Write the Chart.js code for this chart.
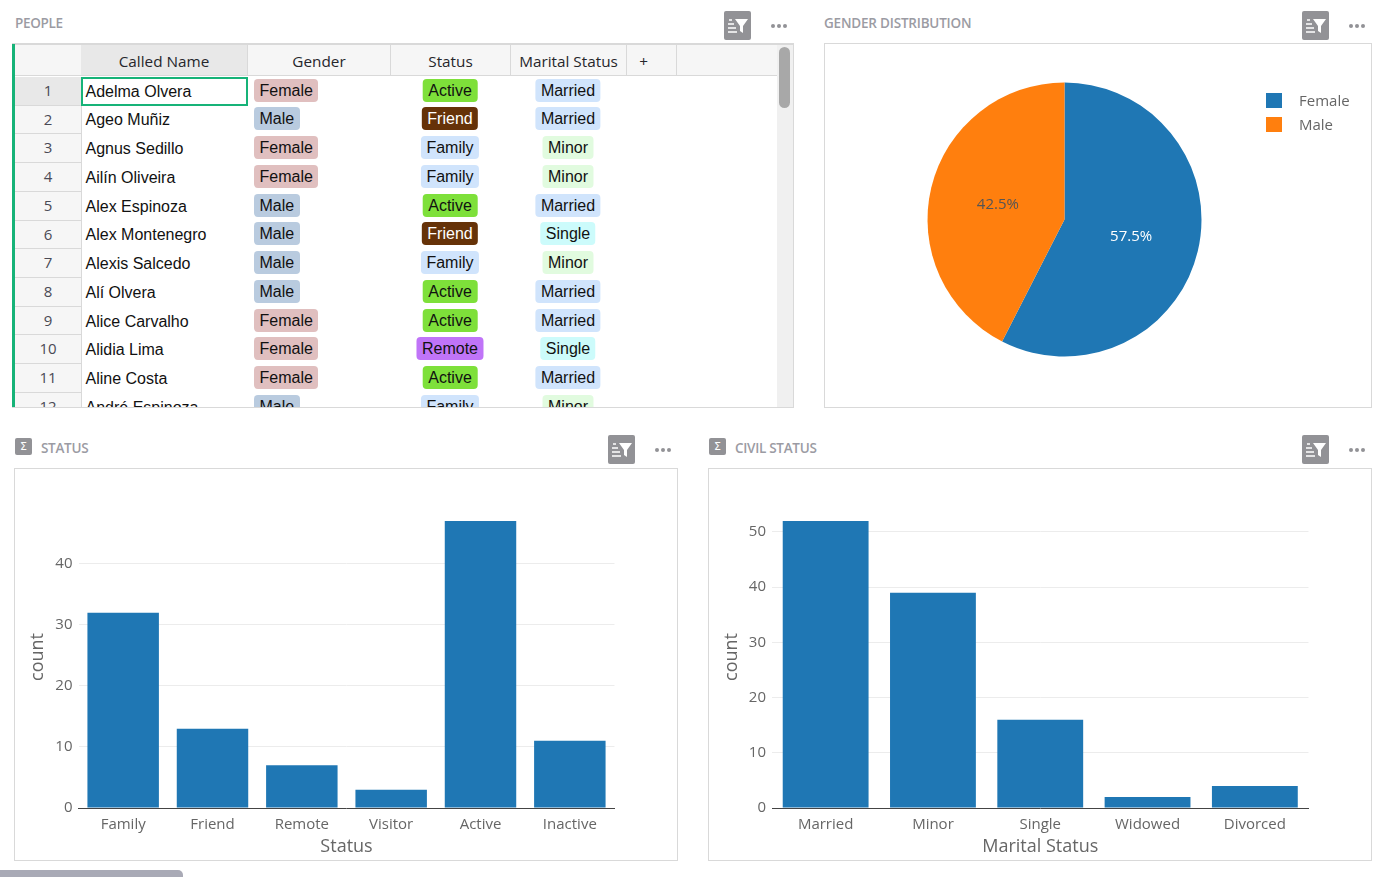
<!DOCTYPE html>
<html>
<head>
<meta charset="utf-8">
<title>People dashboard</title>
<script src="https://cdn.jsdelivr.net/npm/chart.js@4/dist/chart.umd.min.js"></script>
<style>
  html, body { margin: 0; padding: 0; background: #fff; overflow: hidden; }
  body { width: 1387px; height: 877px; position: relative; font-family: "Open Sans", sans-serif; }
  .title { position: absolute; font: 600 13.5px "Open Sans", sans-serif; letter-spacing: -0.3px; color: #9b9ba3; line-height: 18px; }
  .box { position: absolute; border: 1px solid #d9d9d9; box-sizing: border-box; background: #fff; overflow: hidden; }
  .box canvas { position: absolute; left: 0; top: 0; }
  .filter { position: absolute; width: 27px; height: 29px; background: #929296; border-radius: 2px; }
  .dots { position: absolute; width: 16px; height: 4px; }
  .dots i { position: absolute; top: 0; width: 4px; height: 4px; border-radius: 50%; background: #929296; }
  .sigma { position: absolute; width: 17px; height: 17px; background: #929296; border-radius: 2px; color: #fff; font: 11px "DejaVu Sans", sans-serif; line-height: 17px; text-align: center; }
  #tab { position: absolute; left: 0; top: 870px; width: 183px; height: 10px; background: #a9aab6; border-radius: 0 5px 0 0; }

  #grid { left: 12px; top: 43px; width: 782px; height: 365px; border-left: 0; }
  #greenbar { position: absolute; left: 0; top: 0; width: 3px; height: 100%; background: #16b378; }
  .hd { position: absolute; top: 1px; height: 31px; box-sizing: border-box; background: #f6f6f6; border-right: 1px solid #d9d9d9; border-bottom: 1px solid #d9d9d9; font: 15.3px "Open Sans", sans-serif; color: #26262b; line-height: 32px; text-align: center; }
  .num { position: absolute; left: 3px; width: 67px; box-sizing: border-box; background: #f6f6f6; border-right: 1px solid #d9d9d9; border-bottom: 1px solid #d9d9d9; text-align: center; font: 15px "Open Sans", sans-serif; color: #4a4a55; }
  .name { position: absolute; left: 73.5px; font: 16px "Liberation Sans", sans-serif; color: #111; white-space: nowrap; }
  .pill { position: absolute; height: 23px; padding: 0 5.5px; border-radius: 4px; font: 16px/23px "Liberation Sans", sans-serif; color: #111; white-space: nowrap; }
  .center { transform: translateX(-50%); }
  #sel { position: absolute; left: 69px; top: 33px; width: 167px; height: 29px; box-sizing: border-box; border: 2px solid #16b378; }
  #track { position: absolute; left: 765px; top: 1px; width: 16px; height: 364px; background: #f0f0f0; }
  #thumb { position: absolute; left: 767px; top: 3px; width: 11px; height: 61px; background: #a8a8a8; border-radius: 6px; }
  #legend { position: absolute; left: 441px; top: 49px; }
  .key { position: absolute; left: 0; width: 16px; height: 15px; }
  .keytext { position: absolute; left: 33px; font: 15px/20px "Open Sans", sans-serif; color: #666; white-space: nowrap; }
</style>
</head>
<body>
  <div class="title" style="left:15px;top:14px">PEOPLE</div>
  <div class="title" style="left:824px;top:14px;letter-spacing:-0.2px">GENDER DISTRIBUTION</div>
  <div class="sigma" style="left:15px;top:438px">Σ</div>
  <div class="title" style="left:41px;top:439px">STATUS</div>
  <div class="sigma" style="left:709px;top:438px">Σ</div>
  <div class="title" style="left:735px;top:439px">CIVIL STATUS</div>

  <div class="box" id="grid"></div>
  <div class="box" style="left:824px;top:43px;width:548px;height:365px"><canvas id="genderChart"></canvas><div id="legend"></div></div>
  <div class="box" style="left:14px;top:468px;width:664px;height:393px"><canvas id="statusChart"></canvas></div>
  <div class="box" style="left:708px;top:468px;width:664px;height:393px"><canvas id="civilChart"></canvas></div>
  <div id="tab"></div>

<script>
// table rows
const calledNames = ['Adelma Olvera', 'Ageo Muñiz', 'Agnus Sedillo', 'Ailín Oliveira', 'Alex Espinoza', 'Alex Montenegro', 'Alexis Salcedo', 'Alí Olvera', 'Alice Carvalho', 'Alidia Lima', 'Aline Costa', 'André Espinoza'];
const rowGenders = ['Female', 'Male', 'Female', 'Female', 'Male', 'Male', 'Male', 'Male', 'Female', 'Female', 'Female', 'Male'];
const rowStatuses = ['Active', 'Friend', 'Family', 'Family', 'Active', 'Friend', 'Family', 'Active', 'Active', 'Remote', 'Active', 'Family'];
const rowMarital = ['Married', 'Married', 'Minor', 'Minor', 'Married', 'Single', 'Minor', 'Married', 'Married', 'Single', 'Married', 'Minor'];

// charts
const genderLabels = ['Female', 'Male'];
const genderCounts = [65, 48];
const statusLabels = ['Family', 'Friend', 'Remote', 'Visitor', 'Active', 'Inactive'];
const statusCounts = [32, 13, 7, 3, 47, 11];
const maritalLabels = ['Married', 'Minor', 'Single', 'Widowed', 'Divorced'];
const maritalCounts = [52, 39, 16, 2, 4];

const pillColors = {
  Female: '#e0bfbf', Male: '#b9cbdf', Active: '#7ee03a', Friend: '#663208', Family: '#d0e4fc',
  Remote: '#c074f8', Married: '#d0e4fc', Minor: '#e1fbdf', Single: '#ccfbfb'
};

const grid = document.getElementById('grid');
function add(parent, cls, css, text) {
  const d = document.createElement('div');
  d.className = cls;
  d.style.cssText = css;
  if (text !== undefined) d.textContent = text;
  parent.appendChild(d);
  return d;
}

add(grid, '', 'position:absolute;left:0;top:0;width:100%;height:1px;background:#d9d9d9');
add(grid, '', '').id = 'greenbar';
add(grid, 'hd', 'left:3px;width:67px');
add(grid, 'hd', 'left:69px;width:167px;background:#e8e8e8', 'Called Name');
add(grid, 'hd', 'left:236px;width:143px', 'Gender');
add(grid, 'hd', 'left:379px;width:120px', 'Status');
add(grid, 'hd', 'left:499px;width:116px', 'Marital Status');
add(grid, 'hd', 'left:615px;width:50px;padding-right:16px', '+');
add(grid, 'hd', 'left:665px;width:100px;border-right:0');

const rowStep = 28.72;
calledNames.forEach((name, i) => {
  const y = 33 + i * rowStep;
  add(grid, 'num', `top:${y}px;height:${rowStep}px;line-height:${rowStep - 1}px;` + (i === 0 ? 'background:#e8e8e8' : ''), i + 1);
  add(grid, 'name', `top:${y + 5.75}px`, name);
  const g = rowGenders[i];
  add(grid, 'pill', `left:242px;top:${y + 1.75}px;background:${pillColors[g]}`, g);
  const s = rowStatuses[i];
  add(grid, 'pill center', `left:438px;top:${y + 1.75}px;background:${pillColors[s]};color:${s === 'Friend' ? '#fff' : '#111'}`, s);
  const m = rowMarital[i];
  add(grid, 'pill center', `left:556px;top:${y + 1.75}px;background:${pillColors[m]}`, m);
});
add(grid, '', '').id = 'sel';
add(grid, '', '').id = 'track';
add(grid, '', '').id = 'thumb';

// filter button + dots, one set per panel
[[724, 11, 771], [1302, 11, 1349], [608, 435, 655], [1302, 435, 1349]].forEach(([fx, fy, dx]) => {
  const f = add(document.body, 'filter', `left:${fx}px;top:${fy}px`);
  f.innerHTML = '<svg width="27" height="29" viewBox="0 0 27 29"><path d="M11 8h13l-5 7v7l-3-2v-5z" fill="#fff"/><path d="M5 9h3M4 13h6M4 17h8M4 21h9" stroke="#fff" stroke-width="1.3"/></svg>';
  const d = add(document.body, 'dots', `left:${dx}px;top:${fy + 13}px`);
  d.innerHTML = '<i style="left:0"></i><i style="left:6px"></i><i style="left:12px"></i>';
});

const tickGrey = '#666';
const blue = '#1f77b4';
const orange = '#ff7f0e';
Chart.defaults.font.family = '"Open Sans", sans-serif';
Chart.defaults.animation = false;
Chart.defaults.responsive = false;
Chart.defaults.devicePixelRatio = 1;

// percentages inside the slices, canvas text
const sliceLabels = {
  id: 'sliceLabels',
  afterDatasetsDraw(chart) {
    const ctx = chart.ctx;
    const data = chart.data.datasets[0].data;
    const total = data.reduce((a, b) => a + b, 0);
    chart.getDatasetMeta(0).data.forEach((arc, i) => {
      const p = arc.tooltipPosition();
      ctx.save();
      ctx.font = '15px "Open Sans", sans-serif';
      ctx.fillStyle = i === 0 ? '#fff' : '#555';
      ctx.textAlign = 'center';
      ctx.textBaseline = 'middle';
      ctx.fillText((data[i] / total * 100).toFixed(1) + '%', p.x, p.y + 1);
      ctx.restore();
    });
  }
};

function sizeCanvas(id) {
  const c = document.getElementById(id);
  c.width = c.parentNode.clientWidth;
  c.height = c.parentNode.clientHeight;
  return c;
}

const pieColors = [blue, orange];
new Chart(sizeCanvas('genderChart'), {
  type: 'pie',
  data: {
    labels: genderLabels,
    datasets: [{ data: genderCounts, backgroundColor: pieColors, borderWidth: 0, radius: 137 }]
  },
  options: {
    layout: { padding: { left: 0, top: 0, bottom: 12, right: 67 } },
    plugins: { tooltip: { enabled: false }, legend: { display: false } }
  },
  plugins: [sliceLabels]
});

// legend in html, plotly keeps a wider gap than the built in one
const legend = document.getElementById('legend');
genderLabels.forEach((label, i) => {
  add(legend, 'key', `top:${i * 24}px;background:${pieColors[i]}`);
  add(legend, 'keytext', `top:${i * 24 - 3.5}px`, label);
});

function countBars(id, labels, values, xTitle, yMax, yWidth) {
  new Chart(sizeCanvas(id), {
    type: 'bar',
    data: {
      labels: labels,
      datasets: [{ data: values, backgroundColor: blue, barPercentage: 0.8, categoryPercentage: 1 }]
    },
    options: {
      layout: { padding: { left: 0, top: 37, right: 62.5, bottom: 0 } },
      plugins: { legend: { display: false }, tooltip: { enabled: false } },
      scales: {
        x: {
          afterFit: s => { s.height = 52; },
          grid: { display: false },
          border: { color: '#444', width: 1 },
          ticks: { color: tickGrey, font: { size: 15 }, padding: 0, maxRotation: 0 },
          title: { display: true, text: xTitle, color: tickGrey, font: { size: 18 }, padding: { top: 0, bottom: 2 } }
        },
        y: {
          min: 0,
          max: yMax,
          afterFit: s => { s.width = yWidth; },
          grid: { color: '#ececec', drawTicks: false },
          border: { display: false },
          ticks: { stepSize: 10, includeBounds: false, color: tickGrey, font: { size: 15 }, padding: 6 },
          title: { display: true, text: 'count', color: tickGrey, font: { size: 18 }, padding: { top: 12, bottom: 0 } }
        }
      }
    }
  });
}

countBars('statusChart', statusLabels, statusCounts, 'Status', 49.47, 63.5);
countBars('civilChart', maritalLabels, maritalCounts, 'Marital Status', 54.7, 63);
</script>
</body>
</html>
